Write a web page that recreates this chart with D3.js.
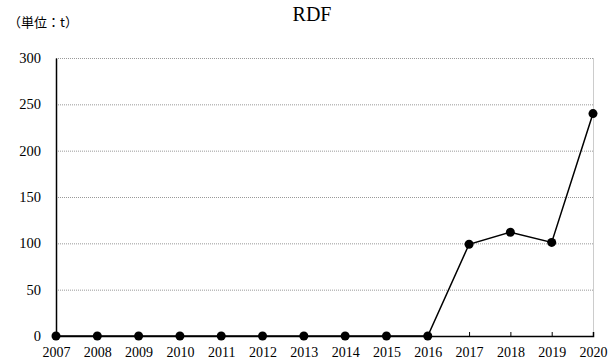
<!DOCTYPE html>
<html>
<head>
<meta charset="utf-8">
<script src="https://cdn.jsdelivr.net/npm/d3@7"></script>
<style>
  body { margin: 0; background: #fff; }
  text { font-family: "Liberation Serif", "Noto Sans CJK JP", serif; }
</style>
</head>
<body>
<div id="chart"></div>
<script>
const years = ["2007","2008","2009","2010","2011","2012","2013","2014","2015","2016","2017","2018","2019","2020"];
const values = [0,0,0,0,0,0,0,0,0,0,99,112,101,240];
const yTicks = [0,50,100,150,200,250,300];

const width = 610, height = 364;
const margin = {top: 58, right: 17, bottom: 28, left: 56};

const svg = d3.select("#chart").append("svg")
  .attr("width", width).attr("height", height);

const x = d3.scalePoint().domain(years).range([margin.left, width - margin.right]);
const y = d3.scaleLinear().domain([0, 300]).range([height - margin.bottom, margin.top]);

// gridlines
svg.append("g")
  .selectAll("line")
  .data(yTicks.filter(d => d > 0))
  .join("line")
  .attr("x1", margin.left).attr("x2", width - margin.right)
  .attr("y1", d => y(d) + 0.5).attr("y2", d => y(d) + 0.5)
  .attr("stroke", "#999").attr("stroke-width", 1)
  .attr("stroke-dasharray", "1,1");

// right border
svg.append("line")
  .attr("x1", width - margin.right + 0.5).attr("x2", width - margin.right + 0.5)
  .attr("y1", margin.top).attr("y2", y(0))
  .attr("stroke", "#ccc");

// y axis
const yAxis = svg.append("g")
  .attr("transform", `translate(${margin.left},0)`)
  .call(d3.axisLeft(y).tickValues(yTicks).tickSize(0).tickPadding(15));
yAxis.select(".domain").attr("stroke", "#000").attr("stroke-width", 1.5);
yAxis.selectAll("text")
  .style("font-size", "14.5px").attr("fill", "#000")
  .style("font-family", "Liberation Serif");

// x axis
const xAxis = svg.append("g")
  .attr("transform", `translate(0,${y(0)})`)
  .call(d3.axisBottom(x).tickSize(-4).tickPadding(10));
xAxis.select(".domain").attr("stroke", "#000").attr("stroke-width", 1.5);
xAxis.selectAll(".tick line").attr("stroke", "#000");
xAxis.selectAll("text")
  .style("font-size", "14px").attr("fill", "#000")
  .attr("dy", "0.8em")
  .style("font-family", "Liberation Serif");

// line
const line = d3.line().x((d, i) => x(years[i])).y(d => y(d));
svg.append("path")
  .datum(values)
  .attr("fill", "none")
  .attr("stroke", "#000")
  .attr("stroke-width", 1.5)
  .attr("d", line);

svg.append("g")
  .selectAll("circle")
  .data(values)
  .join("circle")
  .attr("cx", (d, i) => x(years[i]))
  .attr("cy", d => y(d))
  .attr("r", 4.5)
  .attr("fill", "#000");

// title
svg.append("text")
  .attr("x", 312).attr("y", 21)
  .attr("text-anchor", "middle")
  .style("font-size", "20px")
  .style("font-family", "Liberation Serif")
  .text("RDF");

svg.append("text")
  .attr("x", 8).attr("y", 27)
  .style("font-size", "13px")
  .style("font-family", "Noto Sans CJK JP")
  .text("（単位：t）");
</script>
</body>
</html>
